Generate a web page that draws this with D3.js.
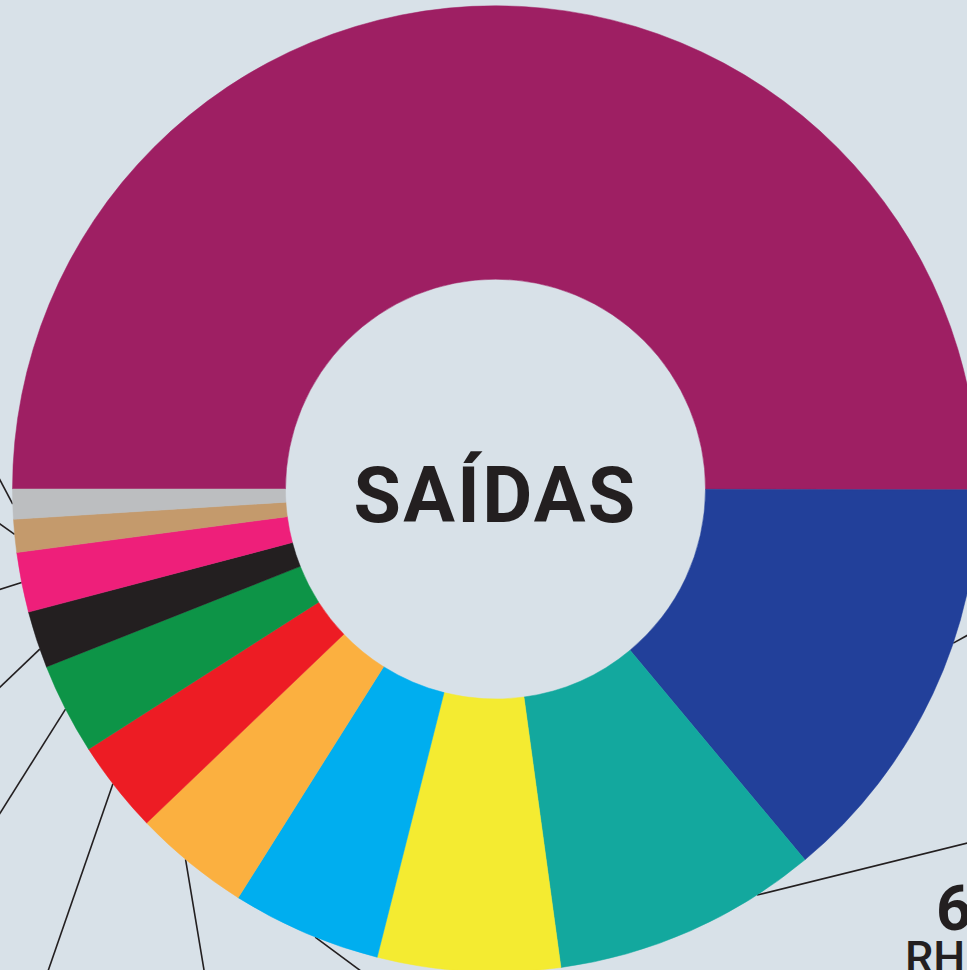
<!DOCTYPE html>
<html>
<head>
<meta charset="utf-8">
<script src="https://cdn.jsdelivr.net/npm/d3@7"></script>
<style>
  html, body { margin: 0; padding: 0; background: #d8e1e8; overflow: hidden; }
  svg { display: block; }
</style>
</head>
<body>
<svg id="chart" width="967" height="970"></svg>
<script>
// ---- data (shares in %) ----
const categories = ["A", "B", "C", "D", "E", "F", "G", "H", "I", "J", "K", "L"];
const values = [50.0, 13.9, 8.9, 6.1, 5.0, 3.9, 3.1, 3.05, 1.9, 2.0, 1.1, 1.0];
const colors = ["#9e1f63", "#22409a", "#13a89e", "#f4eb31", "#00aeef", "#fbb040",
                "#ed1c24", "#0d9447", "#231f20", "#ee1f7a", "#c49a6c", "#bcbec0"];
const centerTitle = "SAÍDAS";
const calloutNumber = "6";
const calloutName = "RH";

// ---- layout ----
const W = 967, H = 970;
const cx = 495.5, cy = 489;
const rOuter = 483, rInner = 210;

// leader lines: index of slice, fraction inside slice where line leaves, end point
const leaders = [
  { i: 1,  f: 0.37, end: [995, 620] },
  { i: 2,  f: 0.22, end: [1000, 835] },
  { i: 4,  f: 0.43, end: [400, 1000] },
  { i: 5,  f: 0.55, end: [209, 1000] },
  { i: 6,  f: 0.55, end: [38, 1000] },
  { i: 7,  f: 0.5,  end: [-20, 845] },
  { i: 8,  f: 0.33, end: [-30, 716] },
  { i: 9,  f: 0.5,  end: [-30, 599] },
  { i: 10, f: 0.55, end: [-30, 503] },
  { i: 11, f: 0.5,  end: [-20, 442] }
];

const svg = d3.select("#chart");
svg.append("rect").attr("width", W).attr("height", H).attr("fill", "#d8e1e8");

const data = categories.map((c, i) => ({ cat: c, value: values[i], color: colors[i] }));

const pie = d3.pie()
  .value(d => d.value)
  .sort(null)
  .startAngle(-Math.PI / 2)
  .endAngle(3 * Math.PI / 2);

const arcs = pie(data);
const arc = d3.arc().innerRadius(rInner).outerRadius(rOuter);

const g = svg.append("g").attr("transform", `translate(${cx},${cy})`);

// leader lines
const lineG = g.append("g");
leaders.forEach(L => {
  const a = arcs[L.i];
  const ang = a.startAngle + (a.endAngle - a.startAngle) * L.f;
  const x0 = Math.sin(ang) * rOuter;
  const y0 = -Math.cos(ang) * rOuter;
  lineG.append("line")
    .attr("x1", x0).attr("y1", y0)
    .attr("x2", L.end[0] - cx).attr("y2", L.end[1] - cy)
    .attr("stroke", "#231f20")
    .attr("stroke-width", 1.6);
});

// slices
g.selectAll("path.slice")
  .data(arcs)
  .join("path")
  .attr("class", "slice")
  .attr("d", arc)
  .attr("fill", d => d.data.color)
  .attr("stroke", d => d.data.color)
  .attr("stroke-width", 0.5);

// center title
g.append("text")
  .attr("x", 0)
  .attr("y", 33)
  .attr("text-anchor", "middle")
  .attr("font-family", "Roboto, 'Open Sans', sans-serif")
  .attr("font-weight", 700)
  .attr("font-size", 77)
  .attr("letter-spacing", 2.3)
  .attr("fill", "#231f20")
  .text(centerTitle);

// callout label (teal slice)
svg.append("text")
  .attr("x", 936)
  .attr("y", 930)
  .attr("font-family", "Roboto, sans-serif")
  .attr("font-weight", 700)
  .attr("font-size", 63)
  .attr("fill", "#231f20")
  .text(calloutNumber);

svg.append("text")
  .attr("x", 905)
  .attr("y", 973)
  .attr("font-family", "Roboto, sans-serif")
  .attr("font-weight", 500)
  .attr("font-size", 45)
  .attr("fill", "#231f20")
  .text(calloutName);
</script>
</body>
</html>
